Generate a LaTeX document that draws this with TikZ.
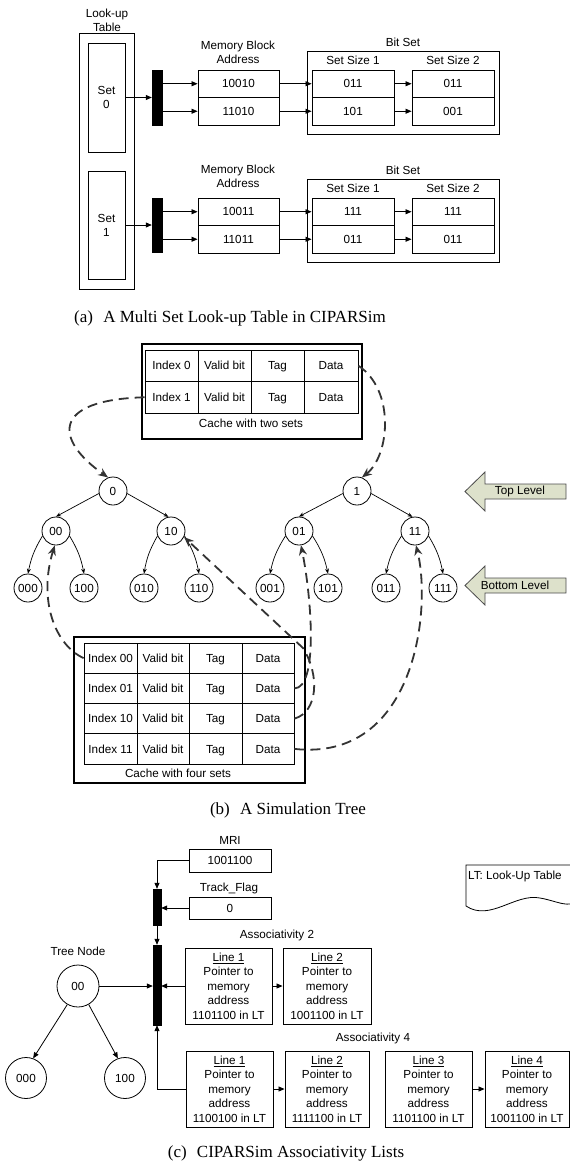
\documentclass[tikz,border=0pt]{standalone}
\usepackage{fontspec}
\setmainfont{Liberation Sans}
\newfontfamily\capfont{Liberation Serif}
\usetikzlibrary{arrows.meta,calc}
\definecolor{arrowfill}{RGB}{221,225,203}
\begin{document}
\begin{tikzpicture}[x=1pt,y=-1pt,
  font=\fontsize{11.7}{14}\selectfont,
  box/.style={draw, line width=0.9pt, inner sep=0pt},
  sbox/.style={box, text height=10.2pt, text depth=2pt},
  cell/.style={draw, line width=0.8pt, inner sep=0pt, minimum width=53pt, minimum height=31pt, text height=10.2pt, text depth=2pt},
  arr/.style={line width=0.8pt, -{Triangle[length=6pt,width=5pt]}},
  tarr/.style={line width=0.7pt, -{Stealth[length=5pt,width=4pt]}},
  dsh/.style={line width=1.8pt, draw=black!80, dash pattern=on 10pt off 6pt, -{Stealth[length=10pt,width=8pt]}},
  tnode/.style={circle, draw, line width=0.8pt, minimum size=28pt, inner sep=0pt},
  blk/.style={fill=black, draw=black, inner sep=0pt},
  lbl/.style={inner sep=0pt},
  capt/.style={inner sep=0pt, font=\capfont\fontsize{17}{20}\selectfont},
  abox/.style={draw, line width=0.9pt, inner sep=0pt, minimum height=76pt, align=center, font=\fontsize{11.7}{14.5}\selectfont}
]
\useasboundingbox (0,0) rectangle (570,1165);

% ================= (a) =================
\node[lbl] (lutla) at (107,14) {Look-up};
\node[lbl] (lutlb) at (107,27) {Table};
\node[box, minimum width=55pt, minimum height=256pt] (lut) at (106.5,161) {};
\node[box, minimum width=37pt, minimum height=109pt, align=center] (set0) at (106.5,97.5) {Set\\0};
\node[box, minimum width=37pt, minimum height=108pt, align=center] (set1) at (106.5,225) {Set\\1};
\node[blk, minimum width=10pt, minimum height=55pt] (bar1) at (157,97.5) {};
\node[blk, minimum width=10pt, minimum height=54pt] (bar2) at (157,225) {};

\node[lbl, align=center] (mbl1) at (238,52) {Memory Block\\Address};
\node[sbox, minimum width=81pt, minimum height=27.5pt] (m1a) at (238.5,83.75) {10010};
\node[sbox, minimum width=81pt, minimum height=27.5pt] (m1b) at (238.5,111.25) {11010};
\node[box, minimum width=192pt, minimum height=83pt] (bs1) at (403,92.5) {};
\node[lbl] (bsl1) at (403,42) {Bit Set};
\node[lbl] (ss11) at (353,60) {Set Size 1};
\node[lbl] (ss12) at (453,60) {Set Size 2};
\node[sbox, minimum width=82pt, minimum height=27.5pt] (s1a) at (353,83.75) {011};
\node[sbox, minimum width=82pt, minimum height=27.5pt] (s1b) at (353,111.25) {101};
\node[sbox, minimum width=82pt, minimum height=27.5pt] (s2a) at (453,83.75) {011};
\node[sbox, minimum width=82pt, minimum height=27.5pt] (s2b) at (453,111.25) {001};

\node[lbl, align=center] (mbl2) at (238,176.5) {Memory Block\\Address};
\node[sbox, minimum width=81pt, minimum height=27.5pt] (m2a) at (238.5,211.75) {10011};
\node[sbox, minimum width=81pt, minimum height=27.5pt] (m2b) at (238.5,239.25) {11011};
\node[box, minimum width=192pt, minimum height=83pt] (bs2) at (403,220.5) {};
\node[lbl] (bsl2) at (403,170) {Bit Set};
\node[lbl] (ss21) at (353,188) {Set Size 1};
\node[lbl] (ss22) at (453,188) {Set Size 2};
\node[sbox, minimum width=82pt, minimum height=27.5pt] (s3a) at (353,211.75) {111};
\node[sbox, minimum width=82pt, minimum height=27.5pt] (s3b) at (353,239.25) {011};
\node[sbox, minimum width=82pt, minimum height=27.5pt] (s4a) at (453,211.75) {111};
\node[sbox, minimum width=82pt, minimum height=27.5pt] (s4b) at (453,239.25) {011};

\draw[arr] (set0.east) -- (set0.east -| bar1.west);
\draw[arr] (set1.east) -- (set1.east -| bar2.west);
\draw[arr] (m1a.west -| bar1.east) -- (m1a.west);
\draw[arr] (m1b.west -| bar1.east) -- (m1b.west);
\draw[arr] (m2a.west -| bar2.east) -- (m2a.west);
\draw[arr] (m2b.west -| bar2.east) -- (m2b.west);
\draw[arr] (m1a.east) -- (s1a.west);
\draw[arr] (m1b.east) -- (s1b.west);
\draw[arr] (s1a.east) -- (s2a.west);
\draw[arr] (s1b.east) -- (s2b.west);
\draw[arr] (m2a.east) -- (s3a.west);
\draw[arr] (m2b.east) -- (s3b.west);
\draw[arr] (s3a.east) -- (s4a.west);
\draw[arr] (s3b.east) -- (s4b.west);

\node[capt] (capa) at (230,318) {(a)\hspace{0.6em}A Multi Set Look-up Table in CIPARSim};

% ================= (b) =================
\node[draw, line width=2.2pt, minimum width=220pt, minimum height=95pt, inner sep=0pt] (c2) at (252,391.5) {};
\node[cell, minimum height=31.5pt] (t2i0) at (171.5,365.75) {Index 0};
\node[cell, minimum height=31.5pt] (t2v0) at (224.5,365.75) {Valid bit};
\node[cell, minimum height=31.5pt] (t2t0) at (277.5,365.75) {Tag};
\node[cell, minimum height=31.5pt, minimum width=54pt] (t2d0) at (331,365.75) {Data};
\node[cell, minimum height=31.5pt] (t2i1) at (171.5,397.25) {Index 1};
\node[cell, minimum height=31.5pt] (t2v1) at (224.5,397.25) {Valid bit};
\node[cell, minimum height=31.5pt] (t2t1) at (277.5,397.25) {Tag};
\node[cell, minimum height=31.5pt, minimum width=54pt] (t2d1) at (331,397.25) {Data};
\node[lbl] (c2l) at (251,423) {Cache with two sets};

\node[draw, line width=2.2pt, minimum width=231pt, minimum height=146pt, inner sep=0pt] (c4) at (189.5,710) {};
\foreach \r/\y in {00/658.1,01/688.4,10/718.6,11/748.9}{
  \node[cell, minimum height=30.25pt] (t4i\r) at (110.5,\y) {Index \r};
  \node[cell, minimum height=30.25pt, minimum width=52pt] (t4v\r) at (163,\y) {Valid bit};
  \node[cell, minimum height=30.25pt] (t4t\r) at (215.5,\y) {Tag};
  \node[cell, minimum height=30.25pt, minimum width=52pt] (t4d\r) at (268,\y) {Data};
}
\node[lbl] (c4l) at (178,773) {Cache with four sets};

% tree
\node[tnode] (n0) at (113,491) {0};
\node[tnode] (n1) at (357,491) {1};
\node[tnode] (n00) at (56,531) {00};
\node[tnode] (n10) at (171,531) {10};
\node[tnode] (n01) at (299,531) {01};
\node[tnode] (n11) at (415,531) {11};
\node[tnode] (n000) at (28,588) {000};
\node[tnode] (n100) at (84,588) {100};
\node[tnode] (n010) at (144,588) {010};
\node[tnode] (n110) at (199,588) {110};
\node[tnode] (n001) at (270,588) {001};
\node[tnode] (n101) at (328,588) {101};
\node[tnode] (n011) at (386,588) {011};
\node[tnode] (n111) at (443,588) {111};

\draw[tarr] (n0.190) -- (n00.north);
\draw[tarr] (n0.-10) -- (n10.100);
\draw[tarr] (n1.190) -- (n01.north);
\draw[tarr] (n1.-10) -- (n11.100);
\foreach \p/\a/\b in {n00/n000/n100, n10/n010/n110, n01/n001/n101, n11/n011/n111}{
  \draw[tarr] (\p.200) to[bend right=10] (\a.north);
  \draw[tarr] (\p.-20) to[bend left=10] (\b.north);
}

% level arrows
\draw[fill=arrowfill, draw=black!70, line width=0.8pt] (465,491.5) -- (485,472) -- (485,484) -- (566,484) -- (566,499) -- (485,499) -- (485,511) -- cycle;
\node[lbl] (toplbl) at (520,491) {Top Level};
\draw[fill=arrowfill, draw=black!70, line width=0.8pt] (465,585.5) -- (485,566) -- (485,578) -- (566,578) -- (566,593) -- (485,593) -- (485,605) -- cycle;
\node[lbl] (botlbl) at (515,585) {Bottom Level};

% dashed links
\draw[dsh] (t2i1.west) .. controls (50,400) and (55,440) .. (n0.110);
\draw[dsh] (t2d0.east) .. controls (395,390) and (390,455) .. (n1.70);
\draw[dsh] (t4i00.west) .. controls (55,645) and (38,600) .. (n00.-95);
\draw[dsh] (t4d01.east) .. controls (318,688) and (312,600) .. (n01.-82);
\draw[dsh] (t4d10.east) .. controls (318,712) and (320,675) .. (303,648) -- (n10.-25);
\draw[dsh] (t4d11.east) .. controls (415,762) and (432,610) .. (n11.-86);

\node[capt] (capb) at (288,810) {(b)\hspace{0.6em}A Simulation Tree};

% ================= (c) =================
\node[lbl] (mril) at (230,840) {MRI};
\node[sbox, minimum width=82pt, minimum height=23pt] (mri) at (230,860.5) {1001100};
\node[lbl] (tfl) at (229,888) {Track\_Flag};
\node[sbox, minimum width=82pt, minimum height=22pt] (tf) at (230,908) {0};
\node[blk, minimum width=8pt, minimum height=36pt] (cb1) at (157,907) {};
\node[blk, minimum width=8pt, minimum height=80pt] (cb2) at (157,985) {};
\node[lbl] (tnl) at (78,951) {Tree Node};
\node[circle, draw, line width=0.8pt, minimum size=42pt, inner sep=0pt] (t00) at (78,986) {00};
\node[circle, draw, line width=0.8pt, minimum size=41pt, inner sep=0pt] (t000) at (26,1078) {000};
\node[circle, draw, line width=0.8pt, minimum size=41pt, inner sep=0pt] (t100) at (125,1078) {100};

\node[lbl] (as2l) at (277,935) {Associativity 2};
\node[abox, minimum width=87pt] (a2b1) at (228.5,986) {\underline{Line 1}\\Pointer to\\memory\\address\\1101100 in LT};
\node[abox, minimum width=88pt] (a2b2) at (327,986) {\underline{Line 2}\\Pointer to\\memory\\address\\1001100 in LT};
\node[lbl] (as4l) at (373,1038) {Associativity 4};
\node[abox, minimum width=87pt] (a4b1) at (229.5,1089) {\underline{Line 1}\\Pointer to\\memory\\address\\1100100 in LT};
\node[abox, minimum width=84pt] (a4b2) at (327,1089) {\underline{Line 2}\\Pointer to\\memory\\address\\1111100 in LT};
\node[abox, minimum width=87pt] (a4b3) at (428.5,1089) {\underline{Line 3}\\Pointer to\\memory\\address\\1101100 in LT};
\node[abox, minimum width=84pt] (a4b4) at (527,1089) {\underline{Line 4}\\Pointer to\\memory\\address\\1001100 in LT};

\draw[arr] (mri.west) -| (cb1.north);
\draw[arr] (tf.west) -- (tf.west -| cb1.east);
\draw[arr] (cb1.south) -- (cb2.north);
\draw[arr] (t00.east) -- (t00.east -| cb2.west);
\draw[arr] (a2b1.west) -- (a2b1.west -| cb2.east);
\draw[arr] (a2b1.east) -- (a2b2.west);
\draw[arr] (a4b1.west) -| (cb2.south);
\draw[arr] (a4b1.east) -- (a4b2.west);
\draw[arr] (a4b3.east) -- (a4b4.west);
\draw[arr] (t00.240) -- (t000.70);
\draw[arr] (t00.-60) -- (t100.110);

\draw[line width=0.8pt] (570,865) -- (466,865) -- (466,906) .. controls (490,922) and (515,893) .. (540,898) .. controls (552,900) and (562,905) .. (570,904);
\node[lbl, anchor=west] (ltn) at (468,876) {LT: Look-Up Table};

\node[capt] (capc) at (286,1153) {(c)\hspace{0.6em}CIPARSim Associativity Lists};
\end{tikzpicture}
\end{document}
